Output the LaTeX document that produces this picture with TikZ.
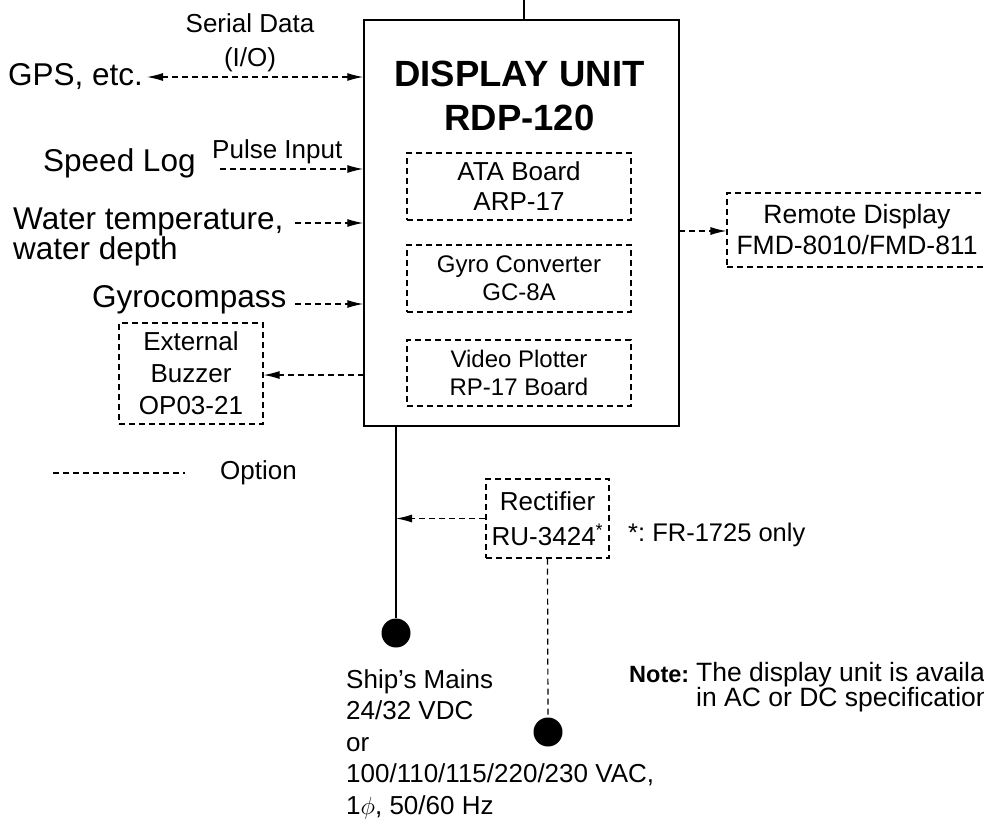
\documentclass[tikz,border=0pt]{standalone}
\usepackage{fontspec}
\setmainfont{Liberation Sans}
\usetikzlibrary{arrows.meta}
\newcommand\fsz[2]{\fontsize{#1}{#2}\selectfont}
\frenchspacing
\begin{document}
\begin{tikzpicture}[x=1pt,y=-1pt,
  opt/.style={dash pattern=on 6pt off 4pt, line width=1.2pt},
  solidln/.style={line width=1.3pt},
  tip/.style={-{Latex[length=16pt,width=8pt]}},
  dtip/.style={{Latex[length=16pt,width=8pt]}-{Latex[length=16pt,width=8pt]}},
  dbox/.style={draw, opt, inner sep=0pt, align=center},
  lbl/.style={inner sep=0pt, anchor=west},
  dot/.style={circle, fill=black, minimum size=29pt, inner sep=0pt}]
\useasboundingbox (0,0) rectangle (984,823);
\clip (0,0) rectangle (984,823);
% main unit
\node[draw, line width=1.5pt, minimum width=315pt, minimum height=406pt, inner sep=0pt] (main) at (521.5,223) {};
\node[inner sep=0pt, align=center, font={\bfseries\fsz{36.5}{44}}] (title) at (519.5,96) {DISPLAY UNIT\\RDP-120};
\node[dbox, minimum width=224pt, minimum height=67pt, font={\fsz{26}{30}}] (ata) at (519,186.5) {ATA Board\\ARP-17};
\node[dbox, minimum width=224pt, minimum height=67pt, font={\fsz{24}{28}}] (gyro) at (519,278.5) {Gyro Converter\\GC-8A};
\node[dbox, minimum width=224pt, minimum height=66pt, font={\fsz{24}{28}}] (video) at (519,373) {Video Plotter\\RP-17 Board};
% top line
\coordinate (topend) at (524,0);
\draw[solidln] (main.north -| topend) -- (topend);
% left inputs
\node[lbl, font={\fsz{31.5}{36}}] (gps) at (8,77) {GPS, etc.};
\node[inner sep=0pt, align=center, font={\fsz{26}{34}}] (serial) at (250,43) {Serial Data\\(I/O)};
\coordinate (gpsend) at (147,77);
\draw[opt, dtip] (gpsend) -- (gpsend -| main.west);
\node[lbl, font={\fsz{31.5}{36}}] (speed) at (43,163) {Speed Log};
\node[lbl, font={\fsz{26}{30}}] (pulse) at (212,152) {Pulse Input};
\coordinate (speedend) at (220,169);
\draw[opt, tip] (speedend) -- (speedend -| main.west);
\node[lbl, align=left, font={\fsz{31.5}{30}}] (water) at (13,237) {Water temperature,\\water depth};
\coordinate (waterend) at (295,223);
\draw[opt, tip] (waterend) -- (waterend -| main.west);
\node[lbl, font={\fsz{31.5}{36}}] (gyroc) at (92,300) {Gyrocompass};
\coordinate (gyrocend) at (295,304);
\draw[opt, tip] (gyrocend) -- (gyrocend -| main.west);
% buzzer
\node[dbox, minimum width=144pt, minimum height=101pt, font={\fsz{26}{32}}] (buzzer) at (191,373.5) {External\\Buzzer\\OP03-21};
\coordinate (buzend) at (364,375);
\draw[opt, tip] (buzend) -- (buzend -| buzzer.east);
% legend
\coordinate (lega) at (53,473);
\coordinate (legb) at (185,473);
\draw[opt] (lega) -- (legb);
\node[lbl, font={\fsz{26}{30}}] (option) at (220,473) {Option};
% remote display
\node[dbox, minimum width=260pt, minimum height=74pt, font={\fsz{26.5}{31}}] (remote) at (857,230) {Remote Display\\FMD-8010/FMD-811};
\coordinate (remend) at (679,231);
\draw[opt, tip] (remend) -- (remend -| remote.west);
% power
\node[dot] (mains) at (396,633) {};
\draw[solidln] (main.south -| mains) -- (mains.north);
\node[dbox, minimum width=123pt, minimum height=79pt, font={\fsz{26}{35}}] (rect) at (547.5,518.5) {Rectifier\\RU-3424\textsuperscript{*}};
\draw[opt, tip] (rect.west) -- (rect.west -| mains);
\node[dot] (acsrc) at (548,732) {};
\draw[opt] (rect.south) -- (acsrc.north);
\node[lbl, font={\fsz{25.5}{30}}] (frnote) at (628,535) {*: FR-1725 only};
\node[lbl, align=left, font={\fsz{26}{31.5}}] (mainstxt) at (346,744) {Ship's Mains\\24/32 VDC\\or\\100/110/115/220/230 VAC,\\1$\phi$, 50/60 Hz};
\node[lbl, font={\bfseries\fsz{23.5}{25}}] (notehead) at (629,675) {Note:};
\node[lbl, align=left, font={\fsz{26.5}{25}}] (notetxt) at (696,687.5) {The display unit is available\\in AC or DC specifications.};
\end{tikzpicture}
\end{document}
